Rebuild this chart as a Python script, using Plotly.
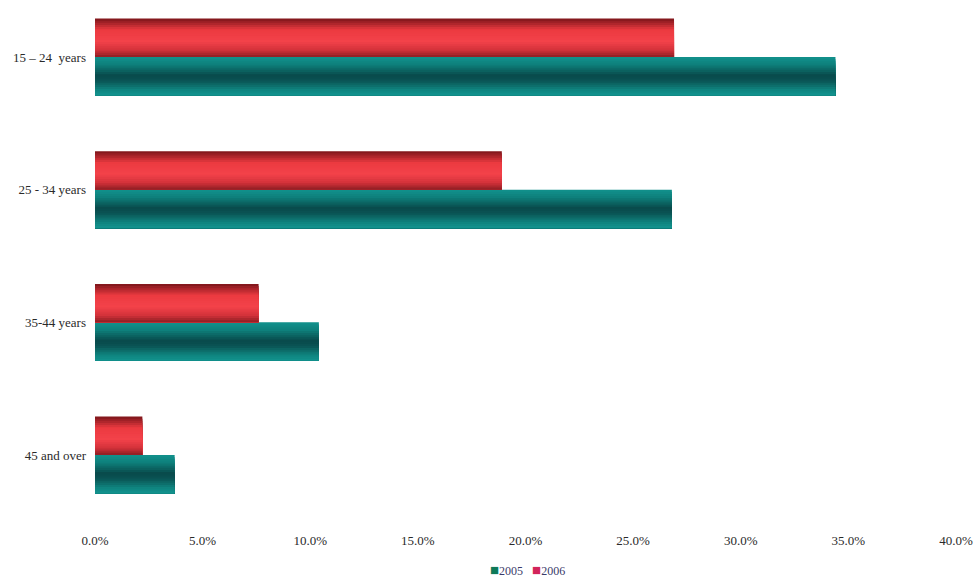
import plotly.graph_objects as go

# Age groups (top to bottom) and share of each group, in percent
age_groups = ["15 – 24  years", "25 - 34 years", "35-44 years", "45 and over"]
share_2005 = [34.4, 26.8, 10.4, 3.7]
share_2006 = [26.9, 18.9, 7.6, 2.2]
x_ticks = [0, 5, 10, 15, 20, 25, 30, 35, 40]
series_names = ["2005", "2006"]
legend_colors = ["#0e7a58", "#d2245a"]

# numeric row positions so each pair of bars can be placed above/below the row centre
rows = list(range(len(age_groups)))[::-1]
BAR_T = 0.29          # thickness of one bar in axis units
N_SLICES = 18         # number of colour bands used to shade each bar


def hex_to_rgb(h):
    h = h.lstrip("#")
    return tuple(int(h[i:i + 2], 16) for i in (0, 2, 4))


def shade(stops, t):
    """Interpolate a colour from (position, hex) stops at t in [0, 1]."""
    for (p0, c0), (p1, c1) in zip(stops, stops[1:]):
        if p0 <= t <= p1:
            f = (t - p0) / (p1 - p0) if p1 > p0 else 0
            a, b = hex_to_rgb(c0), hex_to_rgb(c1)
            r = [round(a[k] + (b[k] - a[k]) * f) for k in range(3)]
            return "rgb({},{},{})".format(*r)
    return stops[-1][1]


# vertical colour profiles, top edge (0) to bottom edge (1)
red_profile = [(0.0, "#7a1519"), (0.12, "#a8242a"), (0.3, "#ec3a40"),
               (0.6, "#f3424a"), (0.82, "#d3323a"), (1.0, "#8c1d22")]
teal_profile = [(0.0, "#12928d"), (0.2, "#0e7f7b"), (0.48, "#094a4b"),
                (0.62, "#0a5454"), (0.85, "#0f847f"), (1.0, "#13948f")]

fig = go.Figure()


def add_shaded_bar(values, profile, offset, name):
    step = BAR_T / N_SLICES
    for i in range(N_SLICES):
        t = (i + 0.5) / N_SLICES
        fig.add_trace(go.Bar(
            x=values, y=rows, orientation="h", name=name,
            offset=offset, width=BAR_T - i * step,
            marker=dict(color=shade(profile, t), line=dict(width=0)),
            showlegend=False, hoverinfo="skip",
        ))


# 2005 below the row centre, 2006 above it
add_shaded_bar(share_2005, teal_profile, -BAR_T, series_names[0])
add_shaded_bar(share_2006, red_profile, 0.0, series_names[1])

font = dict(family="Liberation Serif, Times New Roman, serif", size=13, color="#2a2a2a")

# compact legend line under the axis
legend_text = "&nbsp;&nbsp;&nbsp;".join(
    f'<span style="color:{c};font-size:15px">■</span>{n}'
    for n, c in zip(series_names, legend_colors)
)

fig.add_annotation(
    text=legend_text, xref="paper", yref="paper",
    x=(527 - 95) / 861, y=-(570 - 520) / 520,
    xanchor="center", yanchor="middle", showarrow=False,
    font=dict(family=font["family"], size=12, color="#3a3a6a"),
)

fig.update_layout(
    width=979, height=581,
    margin=dict(l=95, r=23, t=0, b=61, autoexpand=False),
    paper_bgcolor="white", plot_bgcolor="white",
    barmode="overlay",
    font=font,
    showlegend=False,
    xaxis=dict(range=[0, 40], tickvals=x_ticks,
               ticktext=[f"{v:.1f}%" for v in x_ticks],
               showgrid=False, zeroline=False, showline=False,
               ticks="", ticklabelstandoff=11),
    yaxis=dict(range=[-0.49, 3.43], tickvals=rows, ticktext=age_groups,
               showgrid=False, zeroline=False, showline=False,
               ticks="", ticklabelstandoff=8),
)

fig.write_html("out.html")
